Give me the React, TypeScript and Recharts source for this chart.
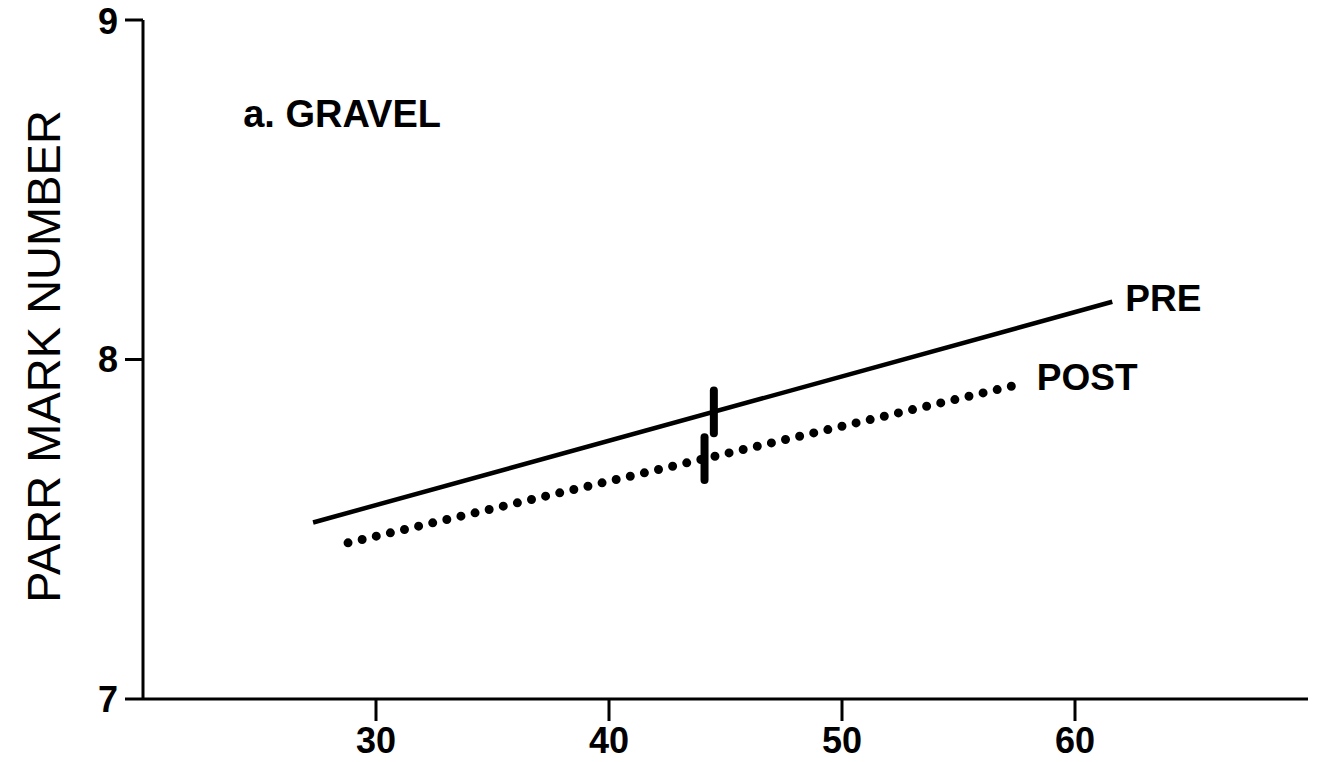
import { LineChart, Line, XAxis, YAxis, ReferenceLine, ReferenceDot } from "recharts";

const FONT = "'Liberation Sans', Arial, Helvetica, sans-serif";

// axis ticks
const xTicks = [30, 40, 50, 60];
const yTicks = [7, 8, 9];

// regression lines (length vs parr mark number)
const preX = [27.3, 61.6];
const preY = [7.52, 8.17];
const postX = [28.8, 57.5];
const postY = [7.46, 7.925];

// mean markers: [PRE, POST]
const meanX = [44.5, 44.1];
const meanY = [7.846, 7.708];
const MARK_HALF = 0.063;

const pre = preX.map((x, i) => ({ x, y: preY[i] }));
const post = postX.map((x, i) => ({ x, y: postY[i] }));

const endLabel = (text: string, dx: number, dy: number, last: number) => (p: any) => {
  if (p.index !== last) return <g />;
  return (
    <text
      x={p.x + dx}
      y={p.y + dy}
      fill="#000"
      fontSize={37}
      fontWeight={700}
      fontFamily={FONT}
      dominantBaseline="central"
    >
      {text}
    </text>
  );
};

const YTitle = (props: any) => {
  const vb = props.viewBox || { x: 0, y: 20, width: 143, height: 679 };
  const cx = vb.x + 43;
  const cy = vb.y + vb.height / 2 - 3;
  return (
    <text
      x={cx}
      y={cy}
      transform={`rotate(-90 ${cx} ${cy})`}
      textAnchor="middle"
      dominantBaseline="central"
      fill="#000"
      fontSize={47}
      fontFamily={FONT}
    >
      PARR MARK NUMBER
    </text>
  );
};

export default function App() {
  return (
    <div style={{ position: "fixed", left: 0, top: 0, width: 1332, height: 762, background: "#fff" }}>
      <LineChart width={1332} height={762} margin={{ top: 20, right: 24, left: 0, bottom: 0 }}>
        <XAxis
          dataKey="x"
          type="number"
          domain={[20, 70]}
          ticks={xTicks}
          allowDataOverflow
          height={63}
          tickSize={22}
          tickMargin={6}
          axisLine={{ stroke: "#000", strokeWidth: 3 }}
          tickLine={{ stroke: "#000", strokeWidth: 3 }}
          tick={{ fill: "#000", fontSize: 36, fontWeight: 700, fontFamily: FONT }}
        />
        <YAxis
          type="number"
          domain={[7, 9]}
          ticks={yTicks}
          allowDataOverflow
          width={143}
          tickSize={18}
          tickMargin={7}
          axisLine={{ stroke: "#000", strokeWidth: 3 }}
          tickLine={{ stroke: "#000", strokeWidth: 3 }}
          tick={{ fill: "#000", fontSize: 36, fontWeight: 700, fontFamily: FONT }}
          label={{ content: YTitle }}
        />
        <Line
          data={pre}
          dataKey="y"
          stroke="#000"
          strokeWidth={4.5}
          dot={false}
          isAnimationActive={false}
          label={endLabel("PRE", 13, -3, pre.length - 1)}
        />
        <Line
          data={post}
          dataKey="y"
          stroke="#000"
          strokeWidth={9}
          strokeDasharray="0 14.5"
          strokeLinecap="round"
          dot={false}
          isAnimationActive={false}
          label={endLabel("POST", 20, -7, post.length - 1)}
        />
        {meanX.map((mx, i) => (
          <ReferenceLine
            key={i}
            segment={[
              { x: mx, y: meanY[i] - MARK_HALF },
              { x: mx, y: meanY[i] + MARK_HALF },
            ]}
            stroke="#000"
            strokeWidth={8}
            strokeLinecap="round"
          />
        ))}
        <ReferenceDot
          x={24.3}
          y={8.685}
          r={0}
          fill="none"
          stroke="none"
          label={(p: any) => (
            <text
              x={p.viewBox ? p.viewBox.x : 0}
              y={p.viewBox ? p.viewBox.y : 0}
              fill="#000"
              fontSize={38}
              fontWeight={700}
              fontFamily={FONT}
            >
              a. GRAVEL
            </text>
          )}
        />
      </LineChart>
    </div>
  );
}
